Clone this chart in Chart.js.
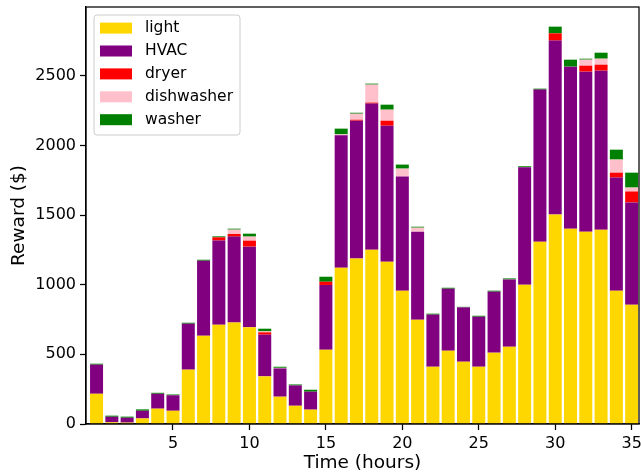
<!DOCTYPE html>
<html>
<head>
<meta charset="utf-8">
<script src="https://cdn.jsdelivr.net/npm/chart.js@4"></script>
<style>
  html, body { margin: 0; padding: 0; background: #fff; }
  #wrap { width: 641px; height: 474px; }
</style>
</head>
<body>
<div id="wrap"><canvas id="grafik"></canvas></div>
<script>
// hours 0..35
const hours = Array.from({length: 36}, (_, i) => i);

const light = [217, 12, 10, 40, 110, 95, 390, 634, 713, 728, 694, 342, 196, 131, 103, 533, 1122, 1187,
               1251, 1165, 957, 749, 411, 526, 447, 411, 512, 555, 1000, 1308, 1503, 1402, 1380, 1395, 957, 856];
const hvac = [209, 40, 35, 55, 107, 111, 330, 538, 604, 617, 579, 299, 203, 146, 129, 465, 950, 990,
              1049, 976, 819, 631, 374, 445, 390, 359, 438, 483, 843, 1092, 1249, 1163, 1149, 1141, 812, 734];
const dryer = [0, 0, 0, 0, 0, 0, 0, 0, 23, 19, 43, 17, 0, 0, 0, 23, 0, 7,
               7, 36, 0, 0, 0, 0, 0, 0, 0, 0, 0, 0, 52, 0, 43, 43, 35, 79];
const dishwasher = [0, 0, 0, 0, 0, 0, 0, 0, 0, 31, 29, 7, 4, 0, 0, 0, 7, 43,
                    129, 79, 57, 29, 0, 0, 0, 0, 0, 0, 0, 0, 0, 0, 43, 43, 94, 28];
const washer = [7, 8, 8, 10, 7, 6, 7, 7, 7, 7, 21, 19, 8, 7, 14, 36, 41, 7,
                7, 36, 29, 7, 7, 7, 4, 7, 7, 7, 7, 7, 48, 50, 7, 43, 71, 107];

const xTicks = [5, 10, 15, 20, 25, 30, 35];
const yTicks = [0, 500, 1000, 1500, 2000, 2500];

const series = [
  {label: "light", data: light, color: "#FFD700"},
  {label: "HVAC", data: hvac, color: "#800080"},
  {label: "dryer", data: dryer, color: "#FF0000"},
  {label: "dishwasher", data: dishwasher, color: "#FFC0CB"},
  {label: "washer", data: washer, color: "#008000"}
];

const fontFam = "'DejaVu Sans', sans-serif";

// bingkai sumbu atas/kanan + legenda gaya matplotlib
const frameLegend = {
  id: "frameLegend",
  afterDatasetsDraw(chart) {
    const {ctx, chartArea: a} = chart;
    ctx.save();
    ctx.strokeStyle = "#000";
    ctx.lineWidth = 1.25;
    ctx.strokeRect(a.left, a.top, a.right - a.left, a.bottom - a.top);

    const bx = a.left + 8, by = a.top + 8, bw = 146, bh = 120;
    ctx.beginPath();
    ctx.roundRect(bx, by, bw, bh, 3);
    ctx.fillStyle = "rgba(255,255,255,0.8)";
    ctx.fill();
    ctx.strokeStyle = "#cccccc";
    ctx.lineWidth = 1;
    ctx.stroke();

    ctx.font = "15.5px " + fontFam;
    ctx.textBaseline = "middle";
    chart.data.datasets.forEach((ds, i) => {
      const sy = by + 7.6 + i * 22.9;
      ctx.fillStyle = ds.backgroundColor;
      ctx.fillRect(bx + 6, sy, 32, 11);
      ctx.fillStyle = "#000";
      ctx.fillText(ds.label, bx + 51, sy + 5.5);
    });
    ctx.restore();
  }
};

new Chart(document.getElementById("grafik"), {
  type: "bar",
  data: {
    datasets: series.map(s => ({
      label: s.label,
      data: hours.map((h, i) => ({x: h, y: s.data[i]})),
      backgroundColor: s.color,
      borderWidth: 0,
      categoryPercentage: 1.0,
      barPercentage: 0.85
    }))
  },
  options: {
    responsive: true,
    maintainAspectRatio: false,
    animation: false,
    layout: {padding: {top: 7, right: 2, left: 0, bottom: 0}},
    plugins: {legend: {display: false}, tooltip: {enabled: false}},
    scales: {
      x: {
        type: "linear",
        stacked: true,
        offset: false,
        min: -0.69,
        max: 35.48,
        afterBuildTicks: sc => { sc.ticks = xTicks.map(v => ({value: v})); },
        afterFit: sc => { sc.height = 50; sc.paddingLeft = 0; sc.paddingRight = 0; },
        grid: {offset: false, drawOnChartArea: false, drawTicks: true, tickLength: 6, tickColor: "#000", tickWidth: 1.25},
        border: {display: true, color: "#000", width: 1.25},
        ticks: {color: "#000", font: {family: fontFam, size: 16}, padding: 4, maxRotation: 0, autoSkip: false,
                callback: v => String(v)},
        title: {display: true, text: "Time (hours)", color: "#000", font: {family: fontFam, size: 18.5}, padding: {top: 0, bottom: 0}}
      },
      y: {
        stacked: true,
        min: 0,
        max: 2993,
        afterBuildTicks: sc => { sc.ticks = yTicks.map(v => ({value: v})); },
        afterFit: sc => { sc.width = 86; sc.paddingTop = 0; sc.paddingBottom = 0; },
        grid: {drawOnChartArea: false, drawTicks: true, tickLength: 6, tickColor: "#000", tickWidth: 1.25},
        border: {display: true, color: "#000", width: 1.25},
        ticks: {color: "#000", font: {family: fontFam, size: 16}, padding: 4, callback: v => String(v)},
        title: {display: true, text: "Reward ($)", color: "#000", font: {family: fontFam, size: 18.5}, padding: {top: 8, bottom: 0}}
      }
    }
  },
  plugins: [frameLegend]
});
</script>
</body>
</html>
